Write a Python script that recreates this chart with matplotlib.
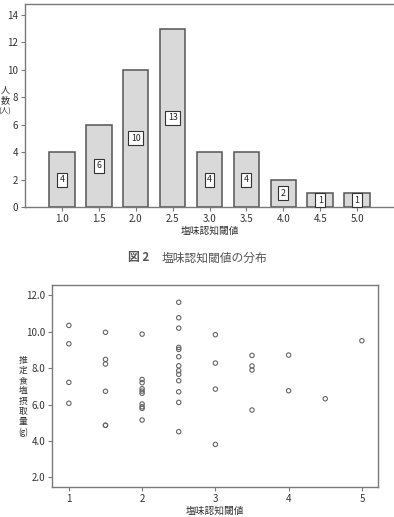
import matplotlib
matplotlib.use("Agg")
import matplotlib.pyplot as plt
import numpy as np

plt.rcParams['font.family'] = ['Noto Sans CJK JP', 'DejaVu Sans']

# ---- data: histogram ----
thr_labels = ["1.0", "1.5", "2.0", "2.5", "3.0", "3.5", "4.0", "4.5", "5.0"]
counts = [4, 6, 10, 13, 4, 4, 2, 1, 1]

# ---- data: scatter (threshold, estimated salt intake g) ----
sc_x = ([1.0] * 4 + [1.5] * 6 + [2.0] * 10 + [2.5] * 13 + [3.0] * 4 +
        [3.5] * 4 + [4.0] * 2 + [4.5] + [5.0])
sc_y = [10.35, 9.34, 7.22, 6.07,
        9.97, 8.48, 8.23, 6.73, 4.86, 4.86,
        9.87, 7.38, 7.20, 6.87, 6.74, 6.62, 6.03, 5.88, 5.79, 5.15,
        11.62, 10.77, 10.20, 9.14, 9.03, 8.63, 8.13, 7.86, 7.66, 7.31, 6.70, 6.12, 4.51,
        9.84, 8.28, 6.85, 3.81,
        8.70, 8.12, 7.90, 5.70,
        8.72, 6.76,
        6.32,
        9.51]

top_ylabel = ["人", "数", "(人)"]
bot_ylabel = ["推", "定", "食", "塩", "摂", "取", "量", "(g)"]

W, H = 394, 517
fig = plt.figure(figsize=(W / 100, H / 100), dpi=100)
spine_c = "#7a7a7a"
txt_c = "#333333"

# ---------- top: bar chart ----------
ax1 = fig.add_axes([25 / W, 1 - 207 / H, 1 - 25 / W, (207 - 4) / H])
pos = np.arange(len(counts))
ax1.bar(pos, counts, width=0.69, color="#d9d9d9", edgecolor="#555555", linewidth=1.1, zorder=2)
for p, c in zip(pos, counts):
    ax1.text(p, c / 2, str(c), ha="center", va="center", fontsize=6.3, color="#222222",
             bbox=dict(boxstyle="square,pad=0.28", fc="white", ec="#333333", lw=0.8), zorder=3)
ax1.set_xlim(-1, 9)
ax1.set_ylim(0, 14.8)
ax1.set_yticks(range(0, 15, 2))
ax1.set_xticks(pos)
ax1.set_xticklabels(thr_labels)
ax1.spines['right'].set_visible(False)
for s in ['top', 'left', 'bottom']:
    ax1.spines[s].set_color(spine_c)
    ax1.spines[s].set_linewidth(1.0)
ax1.tick_params(axis='both', direction='out', length=3, width=0.8, color=spine_c,
                labelsize=7, labelcolor=txt_c, pad=2)
ax1.set_xlabel("塩味認知閾値", fontsize=7, color=txt_c, labelpad=1)
for i, ch in enumerate(top_ylabel):
    fig.text(5 / W, 1 - (90 + i * 10.5) / H, ch, ha="center", va="center",
             fontsize=6.5 if len(ch) == 1 else 5.5, color=txt_c)

# caption
fig.text(128 / W, 1 - 258 / H, "図 2", ha="left", va="center", fontsize=8.5,
         color="#555555", fontweight="bold")
fig.text(162 / W, 1 - 258 / H, "塩味認知閾値の分布", ha="left", va="center", fontsize=8.5,
         color="#555555")

# ---------- bottom: scatter ----------
ax2 = fig.add_axes([52 / W, 1 - 487 / H, (378 - 52) / W, (487 - 285) / H])
ax2.scatter(sc_x, sc_y, s=10, marker="o", facecolors="none", edgecolors="#666666",
            linewidths=0.8, zorder=2)
ax2.set_xlim(0.77, 5.22)
ax2.set_ylim(1.47, 12.57)
ax2.set_xticks([1, 2, 3, 4, 5])
ax2.set_yticks([2, 4, 6, 8, 10, 12])
ax2.set_yticklabels([f"{v:.1f}" for v in [2, 4, 6, 8, 10, 12]])
for s in ax2.spines.values():
    s.set_color(spine_c)
    s.set_linewidth(1.0)
ax2.tick_params(axis='both', direction='out', length=3, width=0.8, color=spine_c,
                labelsize=7, labelcolor=txt_c, pad=2)
ax2.set_xlabel("塩味認知閾値", fontsize=7, color=txt_c, labelpad=1)
for i, ch in enumerate(bot_ylabel):
    fig.text(23 / W, 1 - (360 + i * 10.3) / H, ch, ha="center", va="center",
             fontsize=6.3 if len(ch) == 1 else 5.8, color=txt_c)

fig.savefig("out.png", dpi=100)
